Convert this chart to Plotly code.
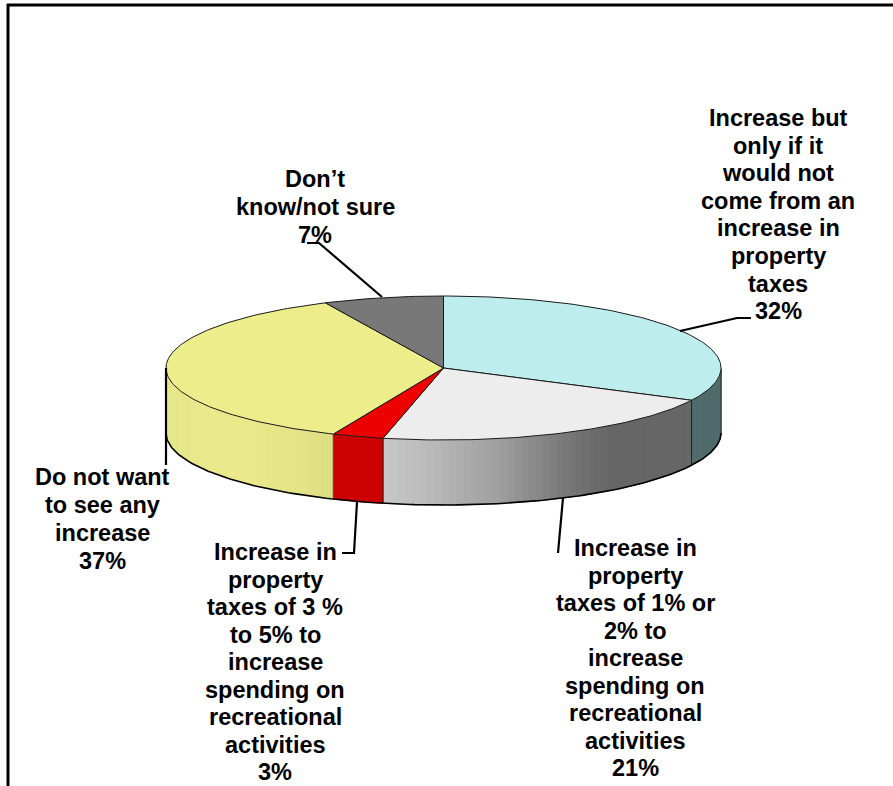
import math
import plotly.graph_objects as go

# Slice shares as estimated from the drawn pie (clockwise from 12 o'clock); labels show rounded values
categories = ["Increase but only if it would not come from an increase in property taxes",
              "Increase in property taxes of 1% or 2% to increase spending on recreational activities",
              "Increase in property taxes of 3 % to 5% to increase spending on recreational activities",
              "Do not want to see any increase",
              "Don\u2019t know/not sure"]
shares = [32.4, 21.1, 3.0, 36.5, 7.0]
shown_percent = [32, 21, 3, 37, 7]
top_colors = ["#bdeeed", "#ededed", "#ee0000", "#eded8b", "#787878"]
# wall colour stops: (x pixel, rgb)
wall_stops = [
    [(693, (80, 107, 107)), (721, (80, 107, 107))],
    [(383, (200, 200, 200)), (440, (182, 182, 182)), (500, (158, 158, 158)), (560, (122, 122, 122)), (610, (102, 102, 102)), (693, (102, 102, 102))],
    [(332, (204, 0, 0)), (383, (204, 0, 0))],
    [(166, (230, 230, 138)), (200, (232, 232, 140)), (240, (234, 234, 140)), (300, (228, 228, 136)), (332, (220, 220, 128))],
    [(0, (100, 100, 100)), (893, (100, 100, 100))],
]
label_lines = [
    ["Increase but", "only if it", "would not", "come from an", "increase in", "property", "taxes", "32%"],
    ["Increase in", "property", "taxes of 1% or", "2% to", "increase", "spending on", "recreational", "activities", "21%"],
    ["Increase in", "property", "taxes of 3 %", "to 5% to", "increase", "spending on", "recreational", "activities", "3%"],
    ["Do not want", "to see any", "increase", "37%"],
    ["Don\u2019t", "know/not sure", "7%"],
]
label_x = [778, 635, 275, 102, 315]
label_first_y = [118, 548, 552, 477, 179]
label_pitch = [27.6, 27.5, 27.5, 28, 28]
leaders = [
    [(680, 331), (737, 318), (751, 318)],
    [(563, 498), (558, 553)],
    [(357, 502), (354, 553), (342, 553)],
    [(166, 368), (166, 465)],
    [(382, 297), (319, 243), (307, 243)],
]

CX, CY, RX, RY, DEPTH = 443.5, 368, 277.5, 72, 65


def pt(deg, dy=0):
    r = math.radians(deg)
    return CX + RX * math.sin(r), CY - RY * math.cos(r) + dy


def arc(a, b, dy=0, step=1.0):
    n = max(2, int(abs(b - a) / step) + 1)
    return [pt(a + (b - a) * i / (n - 1), dy) for i in range(n)]


def mix(stops, x):
    stops = sorted(stops)
    if x <= stops[0][0]:
        return stops[0][1]
    for (x0, c0), (x1, c1) in zip(stops, stops[1:]):
        if x <= x1:
            f = (x - x0) / (x1 - x0)
            return tuple(c0[i] + (c1[i] - c0[i]) * f for i in range(3))
    return stops[-1][1]


def poly(points, fill=None, line="black", width=1.0):
    xs = [p[0] for p in points]
    ys = [p[1] for p in points]
    return go.Scatter(x=xs, y=ys, mode="lines", hoverinfo="skip", showlegend=False,
                      fill="toself" if fill else "none", fillcolor=fill,
                      line=dict(color=line, width=width))


fig = go.Figure()
total = sum(shares)
angles = [0]
for s in shares:
    angles.append(angles[-1] + s / total * 360)

# side wall strips
for i in range(len(shares)):
    a0 = max(angles[i], 90)
    a1 = min(angles[i + 1], 270)
    if a1 <= a0:
        continue
    n = max(1, int((a1 - a0) / 1.5))
    for k in range(n):
        s0 = a0 + (a1 - a0) * k / n
        s1 = a0 + (a1 - a0) * (k + 1) / n
        top = arc(s0, s1, 0, 0.5)
        bot = arc(s1, s0, DEPTH, 0.5)
        c = mix(wall_stops[i], pt((s0 + s1) / 2)[0])
        col = "rgb(%d,%d,%d)" % tuple(round(v) for v in c)
        fig.add_trace(poly(top + bot + top[:1], col, col, 1))

# wall outlines and slice edges on the wall
fig.add_trace(poly(arc(90, 270, DEPTH), None, "black", 1.6))
for a in angles:
    if 90 < a < 270:
        fig.add_trace(poly([pt(a), pt(a, DEPTH)], None, "rgba(20,20,20,0.8)", 1))
fig.add_trace(poly([pt(90), pt(90, DEPTH)], None, "rgba(20,20,20,0.6)", 1))
fig.add_trace(poly([pt(270), pt(270, DEPTH)], None, "rgba(20,20,20,0.6)", 1))

# top faces
for i in range(len(shares)):
    pts = [(CX, CY)] + arc(angles[i], angles[i + 1], 0, 1.0) + [(CX, CY)]
    fig.add_trace(poly(pts, top_colors[i], "#1a1a1a", 1))

# leader lines
for seg in leaders:
    fig.add_trace(poly(seg, None, "black", 2.2))

# labels
for lines, x, y0, pitch in zip(label_lines, label_x, label_first_y, label_pitch):
    for j, t in enumerate(lines):
        fig.add_annotation(x=x, y=y0 + j * pitch, text="<b>%s</b>" % t, showarrow=False,
                           xanchor="center", yanchor="middle",
                           font=dict(family="Liberation Sans", size=23.5, color="black"))

# frame (open at the right and bottom)
fig.add_shape(type="line", x0=8, x1=8, y0=4, y1=786, line=dict(color="black", width=3))
fig.add_shape(type="line", x0=7, x1=893, y0=5, y1=5, line=dict(color="black", width=3))

fig.update_layout(width=893, height=786, margin=dict(l=0, r=0, t=0, b=0),
                  paper_bgcolor="white", plot_bgcolor="white", showlegend=False,
                  xaxis=dict(range=[0, 893], visible=False, fixedrange=True),
                  yaxis=dict(range=[786, 0], visible=False, fixedrange=True))
fig.write_html("out.html", config={"displayModeBar": False},
               post_script="document.body.style.margin='0';document.body.style.overflow='hidden';")
